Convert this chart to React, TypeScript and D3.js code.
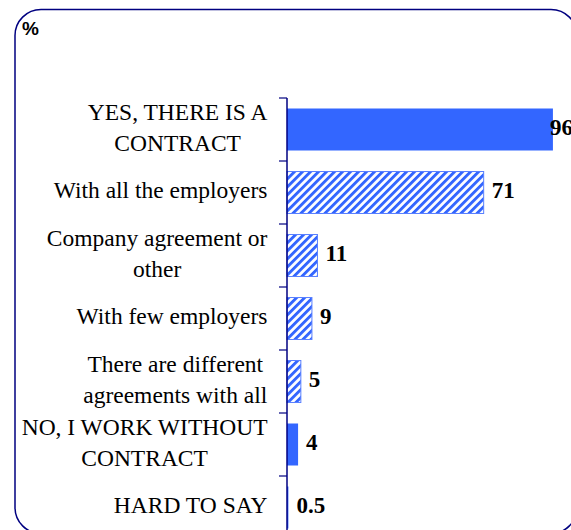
import React, { useEffect, useRef } from "react";
import * as d3 from "d3";

const categories: string[][] = [
  ["YES, THERE IS A", "CONTRACT"],
  ["With all the employers"],
  ["Company agreement or", "other"],
  ["With few employers"],
  ["There are different", "agreements with all"],
  ["NO, I WORK WITHOUT", "CONTRACT"],
  ["HARD TO SAY"],
];
const values: number[] = [96, 71, 11, 9, 5, 4, 0.5];
const patterned: boolean[] = [false, true, true, true, true, false, false];
const valueLabels: string[] = ["96", "71", "11", "9", "5", "4", "0.5"];
const unitLabel = "%";

const W = 571;
const H = 530;
const BLUE = "#3366ff";
const NAVY = "#000080";
const SERIF = "'Liberation Serif', 'Times New Roman', Times, serif";

export default function App() {
  const ref = useRef<SVGSVGElement | null>(null);

  useEffect(() => {
    const svg = d3.select(ref.current);
    svg.selectAll("*").remove();

    const defs = svg.append("defs");
    const pat = defs
      .append("pattern")
      .attr("id", "diag")
      .attr("patternUnits", "userSpaceOnUse")
      .attr("width", 5.66)
      .attr("height", 5.66)
      .attr("patternTransform", "rotate(45)");
    pat.append("rect").attr("width", 5.66).attr("height", 5.66).attr("fill", "#ffffff");
    pat.append("rect").attr("width", 2.9).attr("height", 5.66).attr("fill", BLUE);

    // border
    svg
      .append("rect")
      .attr("x", 15)
      .attr("y", 9.5)
      .attr("width", 562)
      .attr("height", 524)
      .attr("rx", 26)
      .attr("ry", 26)
      .attr("fill", "white")
      .attr("stroke", NAVY)
      .attr("stroke-width", 1.5);

    svg
      .append("text")
      .attr("x", 22)
      .attr("y", 35)
      .style("font-family", "'Liberation Sans', Arial, sans-serif")
      .style("font-weight", "bold")
      .style("font-size", "19px")
      .text(unitLabel);

    const idx = d3.range(values.length);
    const x = d3.scaleLinear().domain([0, 100]).range([287, 564]);
    const y = d3
      .scaleBand<number>()
      .domain(idx)
      .range([98, 539])
      .paddingInner(1 / 3)
      .paddingOuter(1 / 6);
    const step = y.step();
    const top = 98;

    // bars
    svg
      .selectAll("rect.bar")
      .data(idx)
      .enter()
      .append("rect")
      .attr("class", "bar")
      .attr("x", x(0))
      .attr("y", (i) => y(i)!)
      .attr("width", (i) => x(values[i]) - x(0))
      .attr("height", y.bandwidth())
      .attr("fill", (i) => (patterned[i] ? "url(#diag)" : BLUE))
      .attr("stroke", (i) => (patterned[i] ? "#5a80ff" : "none"))
      .attr("stroke-width", 1);

    // axis
    const axisG = svg.append("g");
    axisG
      .append("line")
      .attr("x1", x(0))
      .attr("x2", x(0))
      .attr("y1", top)
      .attr("y2", top + step * values.length)
      .attr("stroke", NAVY)
      .attr("stroke-width", 1.5);
    axisG
      .selectAll("line.tick")
      .data(d3.range(values.length + 1))
      .enter()
      .append("line")
      .attr("class", "tick")
      .attr("x1", x(0) - 8)
      .attr("x2", x(0))
      .attr("y1", (k) => top + k * step)
      .attr("y2", (k) => top + k * step)
      .attr("stroke", NAVY)
      .attr("stroke-width", 1.2);

    // category labels
    const lineH = 31;
    idx.forEach((i) => {
      const lines = categories[i];
      const cy = y(i)! + y.bandwidth() / 2;
      const g = svg.append("g");
      const t = g
        .append("text")
        .style("font-family", SERIF)
        .style("font-size", "23.5px")
        .attr("text-anchor", "middle")
        .attr("fill", "#000");
      lines.forEach((ln, j) => {
        t.append("tspan")
          .attr("x", 0)
          .attr("y", cy + 5.5 - ((lines.length - 1) * lineH) / 2 + j * lineH)
          .text(ln);
      });
      const bb = (t.node() as SVGTextElement).getBBox();
      const right = 267.5;
      g.attr("transform", `translate(${right - bb.width / 2},0)`);
    });

    // value labels
    svg
      .selectAll("text.val")
      .data(idx)
      .enter()
      .append("text")
      .attr("class", "val")
      .attr("x", (i) => Math.min(x(values[i]) + 8, 550))
      .attr("y", (i) => y(i)! + y.bandwidth() / 2 + 5.5)
      .style("font-family", SERIF)
      .style("font-weight", "bold")
      .style("font-size", "23px")
      .attr("fill", "#000")
      .text((i) => valueLabels[i]);
  }, []);

  return (
    <svg
      ref={ref}
      width={W}
      height={H}
      style={{ position: "absolute", left: 0, top: 0, background: "white" }}
    />
  );
}
